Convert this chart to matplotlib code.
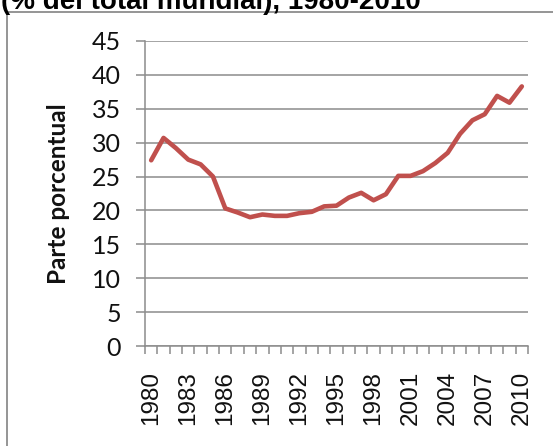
import matplotlib
matplotlib.use("Agg")
import matplotlib.pyplot as plt
from matplotlib.lines import Line2D
import numpy as np

# datos (parte porcentual, % del total mundial)
anios = list(range(1980, 2011))
parte = [27.4, 30.7, 29.2, 27.5, 26.8, 25.0, 20.3, 19.7, 19.0, 19.4,
         19.2, 19.2, 19.6, 19.8, 20.6, 20.7, 21.9, 22.6, 21.5, 22.4,
         25.1, 25.1, 25.8, 27.0, 28.5, 31.3, 33.3, 34.2, 36.9, 35.9,
         38.3]
y_ticks = list(range(0, 50, 5))
titulo = "(% del total mundial), 1980-2010"
etiqueta_y = "Parte porcentual"

W, H = 553, 446
fig = plt.figure(figsize=(W / 100, H / 100), dpi=100)
fig.patch.set_facecolor("white")

# area del grafico en pixeles
x0, x1, ytop, ybot = 145, 528, 41, 346
ax = fig.add_axes([x0 / W, (H - ybot) / H, (x1 - x0) / W, (ybot - ytop) / H])

x = np.arange(len(anios))
ax.plot(x, parte, color="#C0504D", lw=3.3, solid_joinstyle="round",
        solid_capstyle="round", zorder=3)

ax.set_xlim(-0.5, len(anios) - 0.5)
ax.set_ylim(0, 45)
ax.set_yticks(y_ticks)
ax.set_yticklabels([str(v) for v in y_ticks], fontfamily="Lato", fontsize=18,
                   color="#111111")
ax.grid(axis="y", color="#8c8c8c", lw=1.1)
ax.set_axisbelow(True)

ax.set_xticks(x[::3])
ax.set_xticklabels([str(a) for a in anios[::3]], rotation=90,
                   fontfamily="Liberation Sans", fontsize=17.5, color="#111111")
ax.set_xticks(np.arange(-0.5, len(anios)), minor=True)
ax.tick_params(axis="x", which="major", length=0, pad=18)
ax.tick_params(axis="x", which="minor", length=6, width=1.1, color="#8c8c8c",
               direction="out")
ax.tick_params(axis="y", length=6.5, width=1.1, color="#8c8c8c", pad=11)

for s in ["top", "right"]:
    ax.spines[s].set_visible(False)
for s in ["left", "bottom"]:
    ax.spines[s].set_color("#8c8c8c")
    ax.spines[s].set_linewidth(1.1)

ax.set_ylabel(etiqueta_y, fontfamily="Lato", fontweight="bold", fontsize=17.5,
              color="#111111")
ax.yaxis.set_label_coords((70 - x0) / (x1 - x0), 0.5)

# titulo cortado arriba
fig.text(1 / W, 1 - 9 / H, titulo, fontfamily="Liberation Sans",
         fontweight="bold", fontsize=20, va="baseline", ha="left")

# marco del grafico
fig.add_artist(Line2D([7 / W, 7 / W], [0, 1 - 12 / H], color="#8c8c8c", lw=1.3))
fig.add_artist(Line2D([7 / W, 1], [1 - 12 / H, 1 - 12 / H], color="#8c8c8c", lw=1.3))

fig.savefig("out.png", dpi=100)
